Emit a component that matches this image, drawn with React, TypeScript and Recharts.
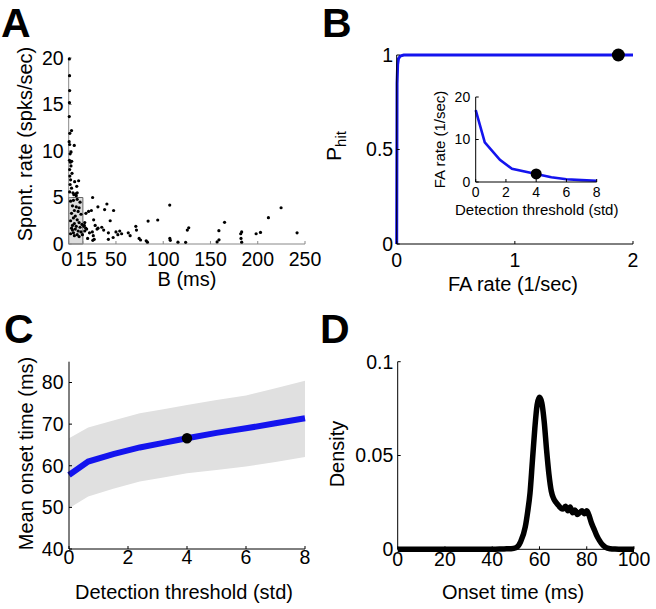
import {
  Area,
  ComposedChart,
  Line,
  ReferenceArea,
  ReferenceDot,
  Scatter,
  ScatterChart,
  XAxis,
  YAxis,
} from "recharts";

const FONT = '"Liberation Sans", Arial, sans-serif';
const BLUE = "#1414ee";

// A: burst duration vs spontaneous rate
const burstMs = [
  0.7, 0.9, 1.0, 0.8, 0.6, 3.0, 1.2, 0.5, 1.0, 5.9, 2.5, 1.5, 0.8, 3.2, 1.8, 2.4, 1.0, 3.5, 1.2, 2.0,
  6.3, 10.5, 1.5, 3.0, 8.5, 1.0, 4.5, 7.5, 9.0, 5.5, 8.0,
  2, 5, 9, 12, 4, 8, 11, 6, 10, 3, 7, 13, 5, 9, 2, 11, 6, 4, 8, 12, 3, 7, 10, 5, 13, 2, 9, 6, 11, 4,
  14, 14.5,
  16, 17, 18, 16.5, 19, 17, 21, 18.2, 25.3, 24, 26.4, 28, 30, 25, 26, 27, 25.5, 31, 30.9, 22, 20,
  35, 37, 40.4, 38, 42, 43.9, 42, 47, 47.5, 50, 52, 54, 56, 63, 65, 71, 74.5, 71.7,
  76, 82, 83.3, 84, 94.2, 106.9, 107, 107.5, 115.6, 123.7, 125.5, 127, 157, 159, 158.9, 164.9,
  182, 182.3, 183, 183, 198.3, 202.9, 211.3, 224.7, 241.6,
];
const spontRate = [
  19.9, 18.1, 16.5, 15.2, 13.7, 12.2, 11.9, 11.0, 10.7, 10.6, 9.9, 9.7, 9.0, 8.9, 8.8, 8.4, 8.0, 7.6, 7.3, 6.9,
  6.7, 6.8, 6.4, 6.0, 6.2, 5.6, 5.5, 5.4, 5.5, 5.3, 5.2,
  4.6, 4.7, 4.8, 4.5, 4.1, 4.0, 3.9, 3.6, 3.5, 3.3, 3.0, 3.2, 2.8, 2.6, 2.5, 2.3, 2.2, 2.0, 1.9, 1.8, 1.7, 1.6, 1.4, 1.2, 1.3, 1.1, 1.0, 0.9, 0.8, 1.5,
  2.1, 1.0,
  1.9, 2.3, 1.7, 2.0, 1.6, 1.4, 3.5, 3.3, 5.0, 3.6, 2.6, 2.0, 1.6, 1.3, 0.9, 0.5, 0.4, 1.7, 4.0, 1.2, 0.6,
  1.8, 1.5, 4.3, 3.7, 1.2, 2.5, 0.5, 0.7, 3.6, 1.3, 1.0, 1.4, 1.1, 1.2, 0.9, 1.9, 0.6, 1.5,
  0.43, 0.35, 0.2, 2.47, 2.58, 4.19, 0.6, 0.4, 0.2, 0.18, 1.5, 1.75, 0.22, 0.45, 1.43, 2.33,
  1.1, 0.6, 0.2, 1.3, 1.1, 1.25, 2.83, 3.9, 1.2,
];
const aXTicks = [0, 15, 50, 100, 150, 200, 250];
const aYTicks = [0, 5, 10, 15, 20];
const boxB = [0, 15];
const boxRate = [0, 5];

// B: ROC curve and inset
const rocFa = [0, 0.003, 0.008, 0.015, 0.03, 0.06, 2];
const rocHit = [0, 0.85, 0.95, 0.98, 0.995, 1, 1];
const chosenFa = 1.876;
const chosenHit = 1;
const insetThresh = [0, 0.6, 1.6, 2.4, 4, 5, 6, 7, 8];
const insetFa = [16.9, 9.3, 5.2, 3.1, 1.9, 1.1, 0.65, 0.45, 0.3];
const chosenThresh = 4;
const chosenInsetFa = 1.9;

// C: mean onset vs threshold
const cThresh = [0, 0.65, 1.5, 2.4, 3.2, 4, 5, 6, 7, 8];
const cMean = [57.8, 61.0, 62.8, 64.4, 65.5, 66.6, 67.9, 69.0, 70.2, 71.4];
const cLow = [49.8, 52.6, 54.5, 56.2, 57.2, 58.2, 59.0, 59.8, 60.9, 62.1];
const cHigh = [66.6, 69.2, 70.9, 72.6, 73.6, 74.6, 75.8, 76.9, 78.6, 80.4];
const chosenMean = 66.6;

// D: onset time density
const onsetMs = [
  0, 5, 10, 15, 20, 25, 30, 35, 40, 45, 48, 50, 52, 54, 55, 56, 57, 58, 59, 60, 61, 62, 63, 64, 65,
  66, 67, 68, 69, 70, 71, 72, 73, 74, 75, 76, 77, 78, 79, 80, 81, 82, 83, 84, 85, 86, 87, 88, 90, 92, 95, 100,
];
const density = [
  0, 0, 0, 0, 0, 0, 0, 0, 0, 0.0002, 0.0003, 0.0008, 0.004, 0.012, 0.02, 0.03, 0.047, 0.064, 0.077, 0.081,
  0.078, 0.068, 0.053, 0.04, 0.031, 0.027, 0.025, 0.0235, 0.022, 0.0215, 0.023, 0.0205, 0.0225, 0.0195,
  0.021, 0.0185, 0.0195, 0.0205, 0.019, 0.0205, 0.018, 0.014, 0.011, 0.008, 0.0055, 0.0035, 0.002, 0.001,
  0.0003, 0.0001, 0, 0,
];

const scatterData = burstMs.map((b, i) => ({ x: b, y: spontRate[i] }));
const rocData = rocFa.map((x, i) => ({ x, y: rocHit[i] }));
const insetData = insetThresh.map((x, i) => ({ x, y: insetFa[i] }));
const cData = cThresh.map((x, i) => ({ x, mean: cMean[i], band: [cLow[i], cHigh[i]] }));
const dData = onsetMs.map((x, i) => ({ x, y: density[i] }));

const tick = { fill: "#000", fontSize: 19.5 };
const smallTick = { fill: "#000", fontSize: 14 };
const black = { stroke: "#000" };
const grey = { stroke: "#888" };

const Dot = (p: any) => <circle cx={p.cx} cy={p.cy} r={1.6} fill="#000" />;

// "0" and "15" sit very close on panel A; nudge them apart a little like the original
const BTick = (p: any) => {
  const v = p.payload.value;
  const shift = v === 0 ? -2 : v === 15 ? 3.5 : 0;
  return (
    <text x={p.x + shift} y={p.y} dy="0.71em" textAnchor="middle" fill="#000" fontSize={19.5}>
      {v}
    </text>
  );
};

export default function App() {
  return (
    <div
      style={{
        position: "absolute",
        left: 0,
        top: 0,
        width: 656,
        height: 609,
        background: "#fff",
        fontFamily: FONT,
        overflow: "hidden",
      }}
    >
      <div style={{ position: "absolute", left: 0, top: 0 }}>
        <ScatterChart width={328} height={300} margin={{ top: 58, right: 23, bottom: 26, left: 28.7 }}>
          <XAxis
            type="number"
            dataKey="x"
            domain={[0, 250]}
            ticks={aXTicks}
            interval={0}
            height={30}
            tickSize={-3}
            tickMargin={11}
            axisLine={grey}
            tickLine={grey}
            tick={BTick}
          />
          <YAxis
            type="number"
            dataKey="y"
            domain={[0, 20]}
            ticks={aYTicks}
            interval={0}
            width={40}
            tickSize={-3}
            tickMargin={8}
            axisLine={grey}
            tickLine={grey}
            tick={tick}
          />
          <ReferenceArea
            x1={boxB[0]}
            x2={boxB[1]}
            y1={boxRate[0]}
            y2={boxRate[1]}
            fill="#dcdcdc"
            fillOpacity={1}
            stroke="#666"
          />
          <Scatter data={scatterData} shape={Dot} isAnimationActive={false} />
        </ScatterChart>
      </div>

      <div style={{ position: "absolute", left: 328, top: 0 }}>
        <ComposedChart width={328} height={300} margin={{ top: 55, right: 23, bottom: 26, left: 28.7 }}>
          <XAxis
            type="number"
            dataKey="x"
            domain={[0, 2]}
            ticks={[0, 1, 2]}
            interval={0}
            height={30}
            tickSize={-3}
            tickMargin={12}
            axisLine={black}
            tickLine={black}
            tick={tick}
          />
          <YAxis
            type="number"
            domain={[0, 1]}
            ticks={[0, 0.5, 1]}
            interval={0}
            width={40}
            tickSize={-3}
            tickMargin={6.5}
            axisLine={black}
            tickLine={black}
            tick={tick}
          />
          <Line data={rocData} dataKey="y" type="linear" stroke={BLUE} strokeWidth={3} dot={false} isAnimationActive={false} />
          <ReferenceDot x={chosenFa} y={chosenHit} r={6.5} fill="#000" stroke="none" />
        </ComposedChart>
      </div>

      <div style={{ position: "absolute", left: 430, top: 85 }}>
        <ComposedChart width={180} height={130} margin={{ top: 12, right: 13.3, bottom: 13, left: 15.7 }}>
          <XAxis
            type="number"
            dataKey="x"
            domain={[0, 8]}
            ticks={[0, 2, 4, 6, 8]}
            interval={0}
            height={20}
            tickSize={-3}
            tickMargin={8}
            axisLine={black}
            tickLine={black}
            tick={smallTick}
          />
          <YAxis
            type="number"
            domain={[0, 20]}
            ticks={[0, 10, 20]}
            interval={0}
            width={30}
            tickSize={-3}
            tickMargin={8.5}
            axisLine={black}
            tickLine={black}
            tick={smallTick}
          />
          <Line data={insetData} dataKey="y" type="linear" stroke={BLUE} strokeWidth={2.6} dot={false} isAnimationActive={false} />
          <ReferenceDot x={chosenThresh} y={chosenInsetFa} r={5.5} fill="#000" stroke="none" />
        </ComposedChart>
      </div>

      <div style={{ position: "absolute", left: 0, top: 310 }}>
        <ComposedChart width={328} height={299} data={cData} margin={{ top: 51.7, right: 23, bottom: 30, left: 29 }}>
          <XAxis
            type="number"
            dataKey="x"
            domain={[0, 8]}
            ticks={[0, 2, 4, 6, 8]}
            interval={0}
            height={30}
            tickSize={-3}
            tickMargin={4.5}
            axisLine={black}
            tickLine={black}
            tick={tick}
          />
          <YAxis
            type="number"
            domain={[40, 85]}
            ticks={[40, 50, 60, 70, 80]}
            interval={0}
            width={40}
            tickSize={-3}
            tickMargin={8.5}
            axisLine={black}
            tickLine={black}
            tick={tick}
          />
          <Area dataKey="band" type="linear" fill="#e0e0e0" fillOpacity={1} stroke="none" isAnimationActive={false} />
          <Line dataKey="mean" type="linear" stroke={BLUE} strokeWidth={6} dot={false} isAnimationActive={false} />
          <ReferenceDot x={chosenThresh} y={chosenMean} r={5.2} fill="#000" stroke="none" />
        </ComposedChart>
      </div>

      <div style={{ position: "absolute", left: 328, top: 310 }}>
        <ComposedChart width={328} height={299} data={dData} margin={{ top: 51.7, right: 22, bottom: 29.7, left: 29.7 }}>
          <XAxis
            type="number"
            dataKey="x"
            domain={[0, 100]}
            ticks={[0, 20, 40, 60, 80, 100]}
            interval={0}
            height={30}
            tickSize={-3}
            tickMargin={5.5}
            axisLine={black}
            tickLine={black}
            tick={tick}
          />
          <YAxis
            type="number"
            domain={[0, 0.1]}
            ticks={[0, 0.05, 0.1]}
            interval={0}
            width={40}
            tickSize={-3}
            tickMargin={7.4}
            axisLine={black}
            tickLine={black}
            tick={tick}
          />
          <Line dataKey="y" type="monotone" stroke="#000" strokeWidth={5.5} dot={false} isAnimationActive={false} />
        </ComposedChart>
      </div>

      <svg
        width={656}
        height={609}
        style={{ position: "absolute", left: 0, top: 0, pointerEvents: "none" }}
        fontFamily={FONT}
      >
        <g fontSize={41} fontWeight="bold" fill="#000">
          <text x={1} y={37}>A</text>
          <text x={322} y={37}>B</text>
          <text x={4} y={343}>C</text>
          <text x={320} y={343}>D</text>
        </g>
        <g fontSize={20} fill="#000" textAnchor="middle">
          <text transform="translate(31.5,144) rotate(-90)">Spont. rate (spks/sec)</text>
          <text x={187} y={286}>B (ms)</text>
          <text transform="translate(341,146) rotate(-90)">
            <tspan fontSize={21}>P</tspan>
            <tspan fontSize={15} dy={5}>hit</tspan>
          </text>
          <text x={513} y={291}>FA rate (1/sec)</text>
          <text transform="translate(33,453.5) rotate(-90)">Mean onset time (ms)</text>
          <text x={184} y={599}>Detection threshold (std)</text>
          <text transform="translate(344,454) rotate(-90)">Density</text>
          <text x={513} y={599}>Onset time (ms)</text>
        </g>
        <g fontSize={15} fill="#000" textAnchor="middle">
          <text transform="translate(445,139.5) rotate(-90)">FA rate (1/sec)</text>
          <text x={536.7} y={215}>Detection threshold (std)</text>
        </g>
      </svg>
    </div>
  );
}
